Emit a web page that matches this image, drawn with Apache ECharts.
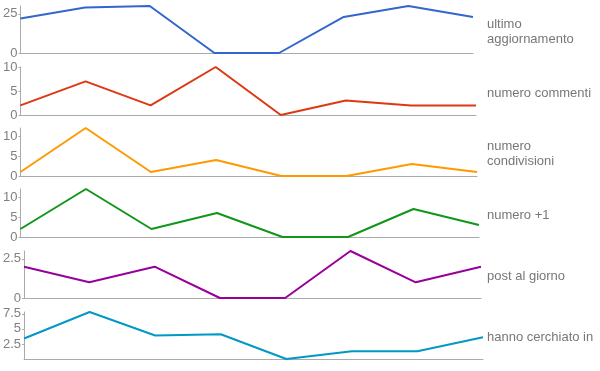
<!DOCTYPE html>
<html><head><meta charset="utf-8">
<script src="https://cdn.jsdelivr.net/npm/echarts@6/dist/echarts.min.js"></script>
<style>html,body{margin:0;padding:0;background:#fff}#c{width:600px;height:371px}</style>
</head><body><div id="c"></div>
<script>
const categories = ['1','2','3','4','5','6','7','8'];
const ultimoAggiornamento = [22, 29, 30, 0, 0, 23, 30, 23];
const numeroCommenti = [2, 7, 2, 10, 0, 3, 2, 2];
const numeroCondivisioni = [1, 12, 1, 4, 0, 0, 3, 1];
const numeroPiu1 = [2, 12, 2, 6, 0, 0, 7, 3];
const postAlGiorno = [2, 1, 2, 0, 0, 3, 1, 2];
const hannoCerchiato = [3.4, 7.8, 3.9, 4.1, 0, 1.3, 1.3, 3.6];
const seriesNames = ['ultimo\naggiornamento', 'numero commenti', 'numero\ncondivisioni', 'numero +1', 'post al giorno', 'hanno cerchiato in'];
const seriesData = [ultimoAggiornamento, numeroCommenti, numeroCondivisioni, numeroPiu1, postAlGiorno, hannoCerchiato];
const colors = ['#3366cc', '#dc3912', '#ff9900', '#109618', '#990099', '#0099c6'];
const yMax = [30, 10, 12, 12, 3, 7.8];
const yInterval = [25, 5, 5, 5, 2.5, 2.5];

const grids = [
  {left: 20, right: 127, top: 6, height: 47},
  {left: 20, right: 124, top: 67, height: 48},
  {left: 20, right: 123, top: 128, height: 48},
  {left: 20, right: 121, top: 189, height: 48},
  {left: 23, right: 119, top: 251, height: 47},
  {left: 23, right: 117, top: 312, height: 47}
];
const labelY = [31.5, 93, 153.5, 215, 276, 337];
const fontFam = '"Liberation Sans", Arial, sans-serif';

const chart = echarts.init(document.getElementById('c'), null, {renderer: 'canvas'});
const option = {
  animation: false,
  grid: grids,
  xAxis: grids.map((g, i) => ({
    type: 'category', gridIndex: i, data: categories, boundaryGap: false,
    axisLine: {show: true, lineStyle: {color: '#aaaaaa', width: 1}},
    axisTick: {show: false}, axisLabel: {show: false}, splitLine: {show: false}
  })),
  yAxis: grids.map((g, i) => ({
    type: 'value', gridIndex: i, min: 0, max: yMax[i], interval: yInterval[i],
    axisLine: {show: true, lineStyle: {color: '#aaaaaa', width: 1}},
    axisTick: {show: true, length: 2, lineStyle: {color: '#aaaaaa'}},
    axisLabel: {show: true, color: '#808080', fontSize: 13, fontFamily: fontFam, margin: 3,
      showMaxLabel: i === 1, showMinLabel: i !== 5},
    splitLine: {show: false}
  })),
  series: seriesData.map((d, i) => ({
    type: 'line', name: seriesNames[i], xAxisIndex: i, yAxisIndex: i, data: d,
    showSymbol: false, symbol: 'none',
    lineStyle: {color: colors[i], width: 2}, itemStyle: {color: colors[i]}
  })),
  graphic: seriesNames.map((n, i) => ({
    type: 'text', x: 487, y: labelY[i],
    style: {text: n, fill: '#777777', font: '13px ' + fontFam, lineHeight: 15, verticalAlign: 'middle', align: 'left'}
  }))
};
chart.setOption(option);
</script>
</body></html>
